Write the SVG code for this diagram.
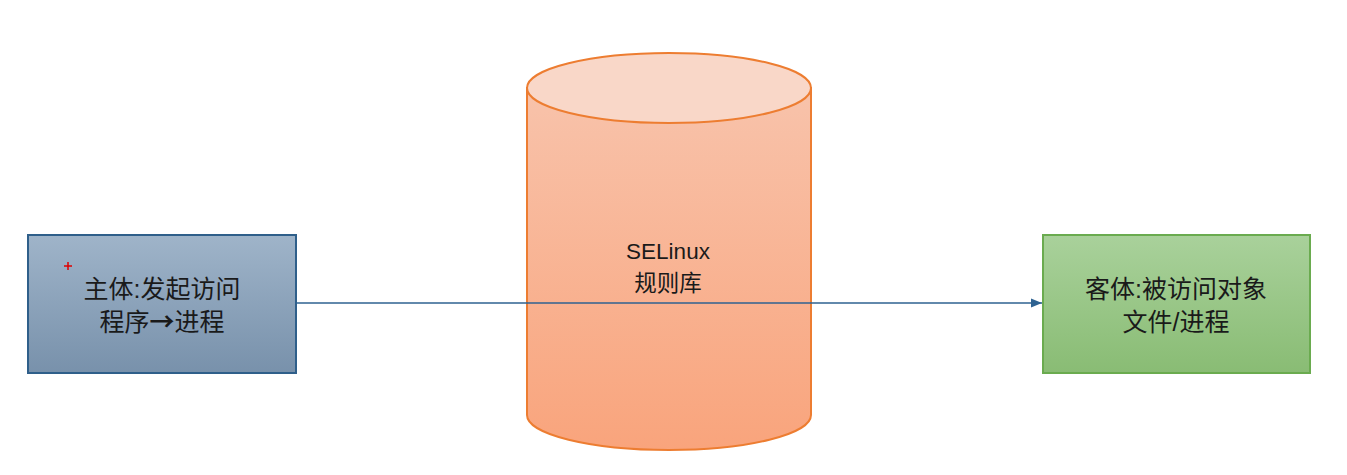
<svg xmlns="http://www.w3.org/2000/svg" width="1347" height="475" viewBox="0 0 1347 475">
<defs>
<linearGradient id="gBlue" x1="0" y1="0" x2="0" y2="1"><stop offset="0" stop-color="#9fb4c9"/><stop offset="1" stop-color="#7891ab"/></linearGradient>
<linearGradient id="gGreen" x1="0" y1="0" x2="0" y2="1"><stop offset="0" stop-color="#a9d19b"/><stop offset="1" stop-color="#89bc74"/></linearGradient>
<linearGradient id="gOrange" x1="0" y1="0" x2="0" y2="1"><stop offset="0" stop-color="#f8c3ab"/><stop offset="1" stop-color="#f9a47c"/></linearGradient>
<marker id="arrow" viewBox="0 0 10 10" refX="10" refY="5" markerWidth="11" markerHeight="11" markerUnits="userSpaceOnUse" orient="auto"><path d="M0,1 L10,5 L0,9 Z" fill="#2e6291"/></marker>
<style>
text{font-family:"Liberation Sans","Noto Sans CJK SC",sans-serif;fill:#1a1a1a;text-anchor:middle}
.lbl{font-size:25px}
.cyl{font-size:22.5px}
.arr{font-family:"Noto Sans CJK SC",sans-serif;font-weight:bold}
</style>
</defs>
<g id="subject">
<rect x="28" y="235" width="268" height="138" fill="url(#gBlue)" stroke="#2f5f8a" stroke-width="2"/>
<path d="M64,266 h8 M68,262 v8" stroke="#e00000" stroke-width="1.5"/>
<text class="lbl" x="162" y="298">主体:发起访问</text>
<text class="lbl" x="162" y="331">程序<tspan class="arr">→</tspan>进程</text>
</g>
<g id="rules">
<path d="M527,88 V415 A142,35 0 0 0 811,415 V88 Z" fill="url(#gOrange)" stroke="#ed7d31" stroke-width="2"/>
<ellipse cx="669" cy="88" rx="142" ry="35" fill="#f9d7c8" stroke="#ed7d31" stroke-width="2"/>
<text class="cyl" x="668" y="259">SELinux</text>
<text class="cyl" x="668" y="291">规则库</text>
</g>
<g id="object">
<rect x="1043" y="235" width="267" height="138" fill="url(#gGreen)" stroke="#6aab4f" stroke-width="2"/>
<text class="lbl" x="1176" y="298">客体:被访问对象</text>
<text class="lbl" x="1176" y="331">文件/进程</text>
</g>
<g id="connectors">
<line x1="296" y1="303" x2="1042" y2="303" stroke="#2e6291" stroke-width="1.5" marker-end="url(#arrow)"/>
</g>
</svg>
